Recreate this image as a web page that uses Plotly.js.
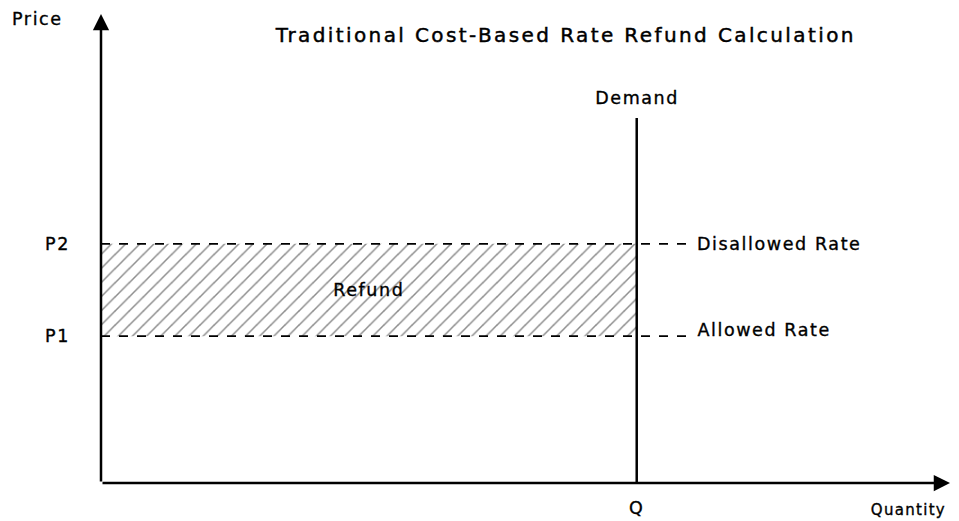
<!DOCTYPE html>
<html>
<head>
<meta charset="utf-8">
<script src="https://cdn.plot.ly/plotly-3.0.1.min.js"></script>
<style>
html,body{margin:0;padding:0;background:#fff;}
#chart{width:959px;height:521px;}
#chart .annotation-text, #chart .xtick text, #chart .ytick text { letter-spacing: 1.6px; stroke: #000; stroke-width: 0.35px; }
#chart .annotation[data-index="3"] .annotation-text { letter-spacing: 1.3px; }
#chart .gtitle { letter-spacing: 2.4px; stroke: #000; stroke-width: 0.45px; }
</style>
</head>
<body>
<div id="chart"></div>
<script>
// Values (abstract units: x 0..10, y 0..10)
const priceLevels = [3.13, 5.1];          // P1, P2
const priceLabels = ["P1", "P2"];
const rateLabels = ["Allowed Rate", "Disallowed Rate"];
const quantityQ = [6.31];
const quantityLabels = ["Q"];
const demandTop = 7.78;
const dashEnd = 6.94;
const refundLabelX = 3.16;
const axisMax = [10, 10];

const FONT = "DejaVu Sans, Verdana, sans-serif";
const Q = quantityQ[0];

const traces = [
  {
    x: [0, Q, Q, 0, 0],
    y: [priceLevels[0], priceLevels[0], priceLevels[1], priceLevels[1], priceLevels[0]],
    type: "scatter", mode: "lines", fill: "toself",
    fillcolor: "rgba(0,0,0,0)",
    fillpattern: {shape: "/", fgcolor: "#8c8c8c", bgcolor: "#ffffff", size: 10, solidity: 0.15},
    line: {width: 0}, hoverinfo: "skip"
  },
  {
    x: [0, dashEnd], y: [priceLevels[1], priceLevels[1]],
    type: "scatter", mode: "lines", line: {color: "#000", width: 1.8, dash: "dash"}
  },
  {
    x: [0, dashEnd], y: [priceLevels[0], priceLevels[0]],
    type: "scatter", mode: "lines", line: {color: "#000", width: 1.8, dash: "dash"}
  },
  {
    x: [Q, Q], y: [0, demandTop],
    type: "scatter", mode: "lines", line: {color: "#000", width: 2.5}
  }
];

const labelFont = {family: FONT, size: 17.5, color: "#000"};

const annotations = [
  {x: 0, y: axisMax[1], ax: 0, ay: 0, xref: "x", yref: "y", axref: "x", ayref: "y",
   showarrow: true, arrowhead: 2, arrowsize: 1.3, arrowwidth: 2.5, arrowcolor: "#000", text: "", standoff: 0},
  {x: axisMax[0], y: 0, ax: 0, ay: 0, xref: "x", yref: "y", axref: "x", ayref: "y",
   showarrow: true, arrowhead: 2, arrowsize: 1.3, arrowwidth: 2.5, arrowcolor: "#000", text: "", standoff: 0},
  {xref: "paper", yref: "paper", x: -0.102, y: 0.99, xanchor: "left", yanchor: "middle",
   text: "Price", showarrow: false, font: labelFont},
  {xref: "paper", yref: "paper", x: 0.992, y: -0.058, xanchor: "right", yanchor: "middle",
   text: "Quantity", showarrow: false, font: {family: FONT, size: 15, color: "#000"}},
  {x: Q, y: demandTop, xref: "x", yref: "y", yanchor: "bottom", yshift: 8,
   text: "Demand", showarrow: false, font: labelFont},
  {x: dashEnd, y: priceLevels[1], xref: "x", yref: "y", xanchor: "left", xshift: 17,
   text: rateLabels[1], showarrow: false, font: labelFont},
  {x: dashEnd, y: priceLevels[0], xref: "x", yref: "y", xanchor: "left", xshift: 15, yshift: 6,
   text: rateLabels[0], showarrow: false, font: labelFont},
  {x: refundLabelX, y: (priceLevels[0] + priceLevels[1]) / 2, xref: "x", yref: "y",
   text: "Refund", showarrow: false, font: labelFont}
];

const layout = {
  width: 959, height: 521,
  margin: {l: 101, r: 9, t: 14, b: 38},
  paper_bgcolor: "#fff", plot_bgcolor: "#fff",
  showlegend: false,
  title: {text: "Traditional Cost-Based Rate Refund Calculation", x: 0.59, xanchor: "center", y: 0.932, yanchor: "middle",
          font: {family: FONT, size: 20, color: "#000"}},
  xaxis: {range: [0, axisMax[0]], showgrid: false, zeroline: false, showline: false,
          tickvals: quantityQ, ticktext: quantityLabels, ticks: "", ticklabelstandoff: 12,
          tickfont: labelFont, fixedrange: true},
  yaxis: {range: [0, axisMax[1]], showgrid: false, zeroline: false, showline: false,
          tickvals: priceLevels, ticktext: priceLabels, ticks: "", ticklabelstandoff: 30,
          tickfont: labelFont, fixedrange: true},
  annotations: annotations
};

Plotly.newPlot("chart", traces, layout, {displayModeBar: false, staticPlot: true});
</script>
</body>
</html>
